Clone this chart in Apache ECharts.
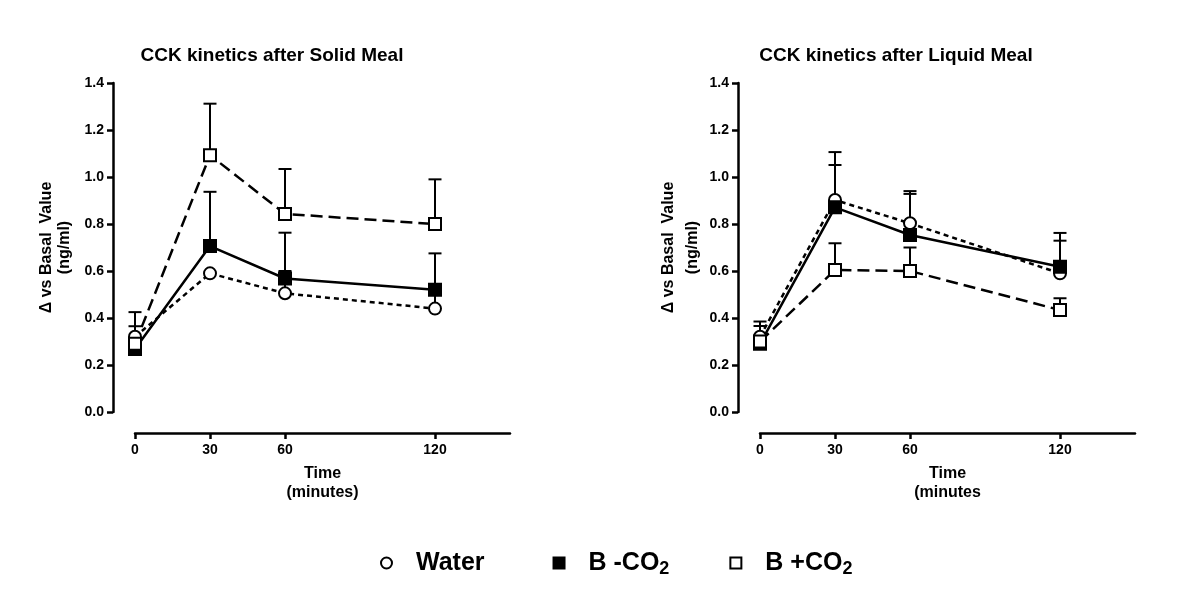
<!DOCTYPE html>
<html>
<head>
<meta charset="utf-8">
<script src="https://cdn.jsdelivr.net/npm/echarts@6/dist/echarts.min.js"></script>
<style>
html,body{margin:0;padding:0;background:#fff;}
#c{width:1200px;height:598px;}
</style>
</head>
<body>
<div id="c"></div>
<script>
// ---- data ----
const times = [0, 30, 60, 120];
const xTicks = [0, 30, 60, 120];
const yTicks = [0, 0.2, 0.4, 0.6, 0.8, 1.0, 1.2, 1.4];
const seriesNames = ['Water', 'B -CO2', 'B +CO2'];
const panelTitles = ['CCK kinetics after Solid Meal', 'CCK kinetics after Liquid Meal'];
const xNames = ['Time\n(minutes)', 'Time\n(minutes'];
const yName = '\u0394 vs Basal  Value\n(ng/ml)';

const solidWater     = [0.32, 0.59, 0.505, 0.44];
const solidWaterErr  = [0.365, null, 0.60, 0.535];
const solidBminus    = [0.268, 0.706, 0.568, 0.52];
const solidBminusErr = [null, 0.937, 0.763, 0.675];
const solidBplus     = [0.29, 1.093, 0.843, 0.80];
const solidBplusErr  = [0.425, 1.312, 1.034, 0.99];

const liquidWater     = [0.32, 0.902, 0.803, 0.59];
const liquidWaterErr  = [0.385, 1.106, 0.94, 0.729];
const liquidBminus    = [0.29, 0.871, 0.753, 0.618];
const liquidBminusErr = [0.366, 1.051, 0.928, 0.762];
const liquidBplus     = [0.30, 0.604, 0.60, 0.434];
const liquidBplusErr  = [null, 0.718, 0.70, 0.484];

// ---- build ----
const FONT = '"Liberation Sans", Arial, Helvetica, sans-serif';
const styles = {
  'Water':  {symbol: 'circle', size: 12, fill: '#fff', dash: [5, 4]},
  'B -CO2': {symbol: 'rect', size: 12, fill: '#000', dash: 'solid'},
  'B +CO2': {symbol: 'rect', size: 12, fill: '#fff', dash: [12, 6]}
};
const panels = [
  {vals: [solidWater, solidBminus, solidBplus], errs: [solidWaterErr, solidBminusErr, solidBplusErr]},
  {vals: [liquidWater, liquidBminus, liquidBplus], errs: [liquidWaterErr, liquidBminusErr, liquidBplusErr]}
];

function pairs(vals) { return times.map((t, i) => [t, vals[i]]); }
function errData(vals, errs) {
  const out = [];
  times.forEach((t, i) => { if (errs[i] != null) out.push([t, vals[i], errs[i]]); });
  return out;
}
function renderErr(params, api) {
  const x = api.value(0);
  const p0 = api.coord([x, api.value(1)]);
  const p1 = api.coord([x, api.value(2)]);
  const hw = 6.5;
  const st = {stroke: '#000', lineWidth: 2};
  return {
    type: 'group',
    children: [
      {type: 'line', shape: {x1: p0[0], y1: p0[1], x2: p1[0], y2: p1[1]}, style: st},
      {type: 'line', shape: {x1: p1[0] - hw, y1: p1[1], x2: p1[0] + hw, y2: p1[1]}, style: st}
    ]
  };
}

const grids = [
  {left: 135, top: 83, width: 375, height: 329},
  {left: 760, top: 83, width: 375, height: 329}
];
const axisLineStyle = {color: '#000', width: 2.5};
const xAxes = grids.map((g, i) => ({
  type: 'value', gridIndex: i, min: 0, max: 150, interval: 30, offset: 21,
  axisLine: {show: true, onZero: false, lineStyle: axisLineStyle},
  axisTick: {show: true, length: 6, lineStyle: {color: '#000', width: 2.5}, customValues: xTicks},
  axisLabel: {customValues: xTicks, color: '#000', fontFamily: FONT, fontSize: 14, fontWeight: 'bold', margin: 10},
  splitLine: {show: false},
  name: xNames[i], nameLocation: 'middle', nameGap: 31, nameMoveOverlap: false,
  nameTextStyle: {color: '#000', fontFamily: FONT, fontSize: 16, fontWeight: 'bold', lineHeight: 19}
}));
const yAxes = grids.map((g, i) => ({
  type: 'value', gridIndex: i, min: 0, max: 1.4, interval: 0.2, offset: 22,
  axisLine: {show: true, onZero: false, lineStyle: axisLineStyle},
  axisTick: {show: true, length: 6, lineStyle: {color: '#000', width: 2.5}},
  axisLabel: {color: '#000', fontFamily: FONT, fontSize: 14, fontWeight: 'bold', margin: 9,
    formatter: v => v.toFixed(1)},
  splitLine: {show: false},
  name: yName, nameLocation: 'middle', nameGap: i === 0 ? 39 : 33, nameMoveOverlap: false,
  nameTextStyle: {color: '#000', fontFamily: FONT, fontSize: 16, fontWeight: 'bold', lineHeight: i === 0 ? 18 : 24}
}));

const series = [];
panels.forEach((p, pi) => {
  seriesNames.forEach((name, si) => {
    const s = styles[name];
    series.push({
      type: 'line', name: name, xAxisIndex: pi, yAxisIndex: pi, z: 3,
      data: pairs(p.vals[si]),
      symbol: s.symbol, symbolSize: s.size, showAllSymbol: true,
      lineStyle: {color: '#000', width: 2.5, type: s.dash},
      itemStyle: {color: s.fill, borderColor: '#000', borderWidth: 2, opacity: 1},
      emphasis: {disabled: true}, animation: false
    });
  });
});
panels.forEach((p, pi) => {
  seriesNames.forEach((name, si) => {
    const s = styles[name];
    series.push({
      type: 'custom', name: name, xAxisIndex: pi, yAxisIndex: pi, z: 1,
      itemStyle: {color: s.fill, borderColor: '#000', borderWidth: 2},
      renderItem: renderErr, data: errData(p.vals[si], p.errs[si]),
      encode: {x: 0, y: [1, 2]}, silent: true
    });
  });
});

const chart = echarts.init(document.getElementById('c'), null, {renderer: 'canvas'});
chart.setOption({
  backgroundColor: '#fff',
  animation: false,
  title: [
    {text: panelTitles[0], left: 267, top: 41, textAlign: 'center',
     textStyle: {color: '#000', fontFamily: FONT, fontSize: 19, fontWeight: 'bold'}},
    {text: panelTitles[1], left: 891, top: 41, textAlign: 'center',
     textStyle: {color: '#000', fontFamily: FONT, fontSize: 19, fontWeight: 'bold'}}
  ],
  legend: {
    left: 380, top: 546, padding: 0, orient: 'horizontal', itemGap: 60,
    itemWidth: 11, itemHeight: 11, selectedMode: false,
    data: [
      {name: 'Water', icon: 'circle'},
      {name: 'B -CO2', icon: 'rect'},
      {name: 'B +CO2', icon: 'rect'}
    ],
    formatter: n => n === 'Water' ? '{w|Water}' : n.replace('CO2', 'CO{sub|2}'),
    textStyle: {color: '#000', fontFamily: FONT, fontSize: 25, fontWeight: 'bold', padding: [0, 0, 0, 19], lineHeight: 30,
      rich: {
        w: {fontFamily: FONT, fontSize: 25, fontWeight: 'bold', color: '#000', lineHeight: 30, padding: [0, 8, 0, 0]},
        sub: {fontFamily: FONT, fontSize: 18, fontWeight: 'bold', color: '#000', lineHeight: 18, padding: [14, 0, 0, 0], verticalAlign: 'bottom'}
      }}
  },
  grid: grids,
  xAxis: xAxes,
  yAxis: yAxes,
  series: series
});
</script>
</body>
</html>
